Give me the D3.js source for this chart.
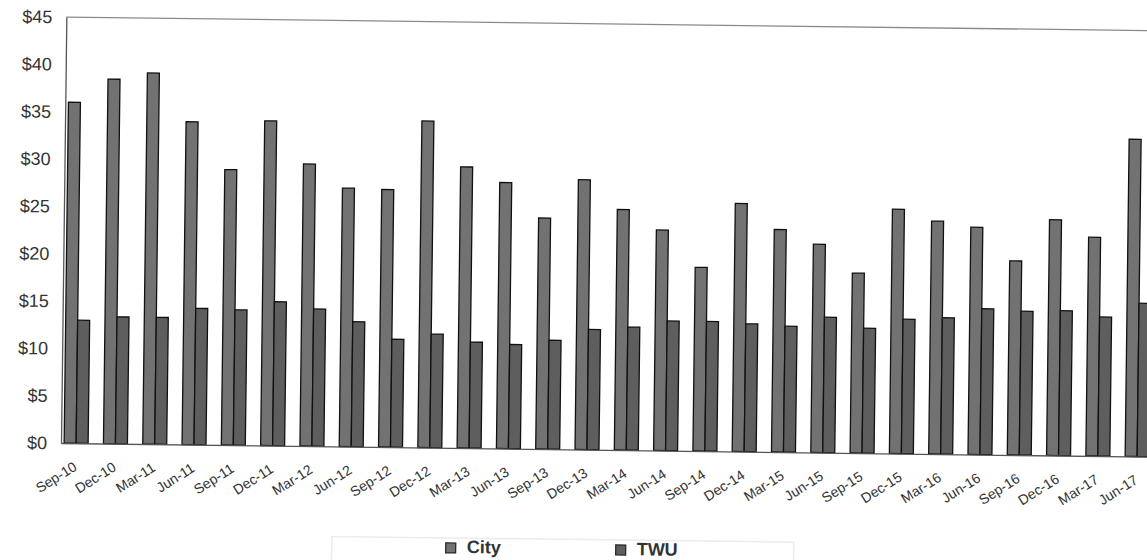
<!DOCTYPE html>
<html>
<head>
<meta charset="utf-8">
<script src="https://cdn.jsdelivr.net/npm/d3@7/dist/d3.min.js"></script>
<style>
  html, body { margin: 0; padding: 0; background: #fff; }
  svg { display: block; }
  text { font-family: "Liberation Sans", Arial, sans-serif; }
</style>
</head>
<body>
<svg id="chart" width="1147" height="560"></svg>
<script>
const categories = ["Sep-10","Dec-10","Mar-11","Jun-11","Sep-11","Dec-11","Mar-12","Jun-12","Sep-12","Dec-12",
  "Mar-13","Jun-13","Sep-13","Dec-13","Mar-14","Jun-14","Sep-14","Dec-14","Mar-15","Jun-15",
  "Sep-15","Dec-15","Mar-16","Jun-16","Sep-16","Dec-16","Mar-17","Jun-17"];
const cityValues = [36.0, 38.5, 39.2, 34.1, 29.1, 34.3, 29.8, 27.3, 27.2, 34.5,
  29.7, 28.1, 24.4, 28.5, 25.4, 23.3, 19.4, 26.2, 23.5, 22.0,
  19.0, 25.8, 24.6, 24.0, 20.5, 24.9, 23.1, 33.5];
const twuValues = [13.0, 13.4, 13.4, 14.4, 14.3, 15.2, 14.5, 13.2, 11.4, 12.0,
  11.2, 11.0, 11.5, 12.7, 13.0, 13.7, 13.7, 13.5, 13.3, 14.3,
  13.2, 14.2, 14.4, 15.4, 15.2, 15.3, 14.7, 16.2];
const seriesNames = ["City", "TWU"];
const yTicks = [0, 5, 10, 15, 20, 25, 30, 35, 40, 45];

const colors = { City: "#727272", TWU: "#5e5e5e" };

const svg = d3.select("#chart");
const mLeft = 61, mTop = 17, mBottom = 443;
const step = 39.3;
const pi = 0.39, po = 0.08;
const plotWidth = step * (categories.length - pi + 2 * po);

const root = svg.append("g").attr("transform", `rotate(0.72, ${mLeft}, ${mBottom})`);

const x = d3.scaleBand().domain(categories).range([mLeft, mLeft + plotWidth]).paddingInner(pi).paddingOuter(po);
const x1 = d3.scaleBand().domain(seriesNames).range([0, x.bandwidth()]);
const y = d3.scaleLinear().domain([0, 45]).range([mBottom, mTop]);

// plot frame top border
root.append("line").attr("x1", mLeft).attr("x2", mLeft + plotWidth + 10).attr("y1", mTop).attr("y2", mTop)
  .attr("stroke", "#8a8a8a").attr("stroke-width", 1.3);

// y axis
const yAxis = d3.axisLeft(y).tickValues(yTicks).tickFormat(d => "$" + d).tickSize(0).tickPadding(14);
const gy = root.append("g").attr("transform", `translate(${mLeft},0)`).call(yAxis);
gy.select(".domain").attr("stroke", "#555").attr("stroke-width", 1.3);
gy.selectAll("text").attr("font-size", 18).attr("fill", "#333");

// bars
const data = categories.map((c, i) => ({ cat: c, City: cityValues[i], TWU: twuValues[i] }));
const groups = root.append("g").selectAll("g").data(data).join("g")
  .attr("transform", d => `translate(${x(d.cat)},0)`);
groups.selectAll("rect").data(d => seriesNames.map(s => ({ s, v: d[s] }))).join("rect")
  .attr("x", d => x1(d.s))
  .attr("width", x1.bandwidth())
  .attr("y", d => y(d.v))
  .attr("height", d => y(0) - y(d.v))
  .attr("fill", d => colors[d.s])
  .attr("stroke", "#111")
  .attr("stroke-width", 1.3);

// x axis
const xAxis = d3.axisBottom(x).tickSize(0).tickPadding(0);
const gx = root.append("g").attr("transform", `translate(0,${mBottom})`).call(xAxis);
gx.select(".domain").attr("stroke", "#555").attr("stroke-width", 1.3);
gx.selectAll("text")
  .attr("font-size", 14).attr("fill", "#333")
  .attr("text-anchor", "end")
  .attr("dy", 0)
  .attr("transform", "translate(2,26) rotate(-33)");

// legend
const legend = root.append("g");
legend.append("rect").attr("x", 333).attr("y", 533).attr("width", 462).attr("height", 40)
  .attr("fill", "none").attr("stroke", "#ececec").attr("stroke-width", 1.5);
const legX = [447, 617];
seriesNames.forEach((s, i) => {
  legend.append("rect").attr("x", legX[i]).attr("y", 538).attr("width", 10).attr("height", 10)
    .attr("fill", colors[s]).attr("stroke", "#222").attr("stroke-width", 1.2);
  legend.append("text").attr("x", legX[i] + 21).attr("y", 548).text(s)
    .attr("font-size", 18).attr("font-weight", "bold").attr("fill", "#333");
});
</script>
</body>
</html>
